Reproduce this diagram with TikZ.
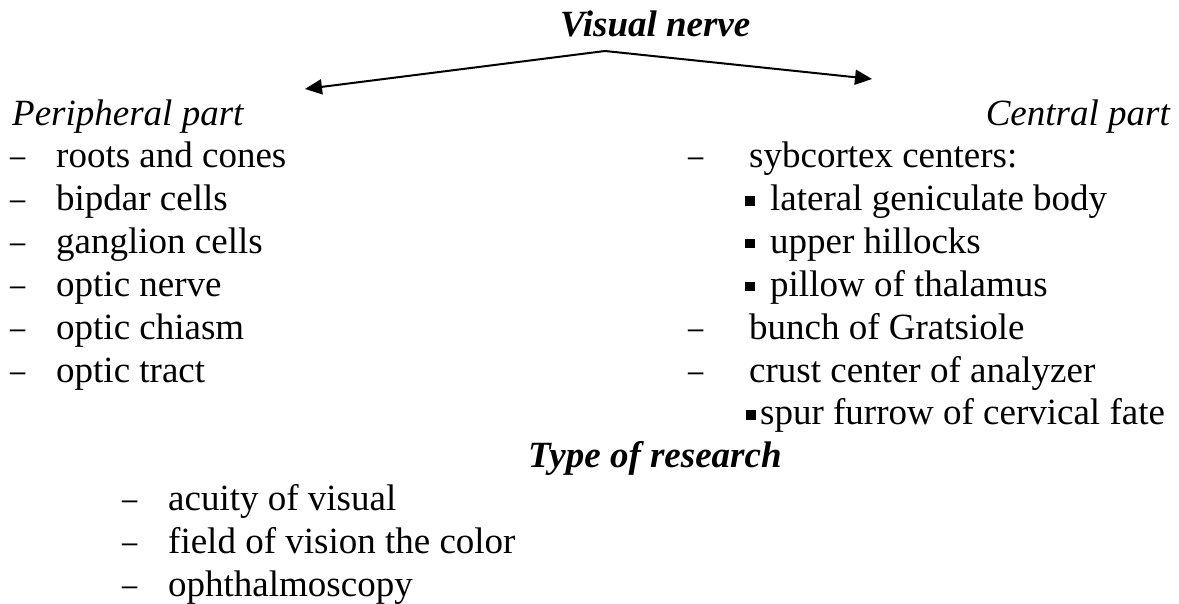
\documentclass[tikz,border=0pt]{standalone}
\usepackage{fontspec}
\setmainfont{Liberation Serif}
\usetikzlibrary{arrows.meta}
\newcommand{\dsh}{\scalebox{0.82}[1]{–}}
\tikzset{
  txt/.style={inner sep=0pt, anchor=base west, font=\fontsize{37}{42}\selectfont},
  head/.style={txt, font=\fontsize{37}{42}\selectfont\bfseries\itshape},
  part/.style={txt, font=\fontsize{37}{42}\selectfont\itshape},
  sq/.style={fill=black, draw=none, minimum size=9.5pt, inner sep=0pt, anchor=center},
  arr/.style={line width=2pt, -{Triangle[length=17pt,width=15pt]}}
}
\begin{document}
\begin{tikzpicture}[x=1pt, y=-1pt]
\useasboundingbox (0,0) rectangle (1179,604);
\def\ls{42.8}

% title and branching arrows
\node[head] (title) at (560,37) {Visual nerve};
\coordinate (apex) at (605,51);
\coordinate (ltip) at (305,89);
\coordinate (rtip) at (872,79);
\draw[arr] (apex) -- (ltip);
\draw[arr] (apex) -- (rtip);

% peripheral part
\node[part] (per) at (12,126) {Peripheral part};
\foreach \t [count=\i from 0] in {roots and cones, bipdar cells, ganglion cells, optic nerve, optic chiasm, optic tract}{
  \node[txt] (pd\i) at (10,168+\ls*\i) {\dsh};
  \node[txt] (p\i) at (56,168+\ls*\i) {\t};
}

% central part
\node[part, anchor=base east] (cen) at (1170,126) {Central part};
\node[txt] (cd0) at (688,168) {\dsh};
\node[txt] (c0) at (749,168) {sybcortex centers:};
\node[sq] (b1) at (750,168+\ls-10) {};
\node[txt] (c1) at (770,168+\ls) {lateral geniculate body};
\node[sq] (b2) at (750,168+2*\ls-10) {};
\node[txt] (c2) at (770,168+2*\ls) {upper hillocks};
\node[sq] (b3) at (750,168+3*\ls-10) {};
\node[txt] (c3) at (770,168+3*\ls) {pillow of thalamus};
\node[txt] (cd4) at (688,168+4*\ls) {\dsh};
\node[txt] (c4) at (749,168+4*\ls) {bunch of Gratsiole};
\node[txt] (cd5) at (688,168+5*\ls) {\dsh};
\node[txt] (c5) at (749,168+5*\ls) {crust center of analyzer};
\node[sq] (b6) at (751,168+6*\ls-10) {};
\node[txt] (c6) at (760,168+6*\ls) {spur furrow of cervical fate};

% research types
\node[head] (res) at (528,168+7*\ls) {Type of research};
\foreach \t [count=\i from 0] in {acuity of visual, field of vision the color, ophthalmoscopy}{
  \node[txt] (rd\i) at (122,168+\ls*8+\ls*\i) {\dsh};
  \node[txt] (r\i) at (168,168+\ls*8+\ls*\i) {\t};
}
\end{tikzpicture}
\end{document}
